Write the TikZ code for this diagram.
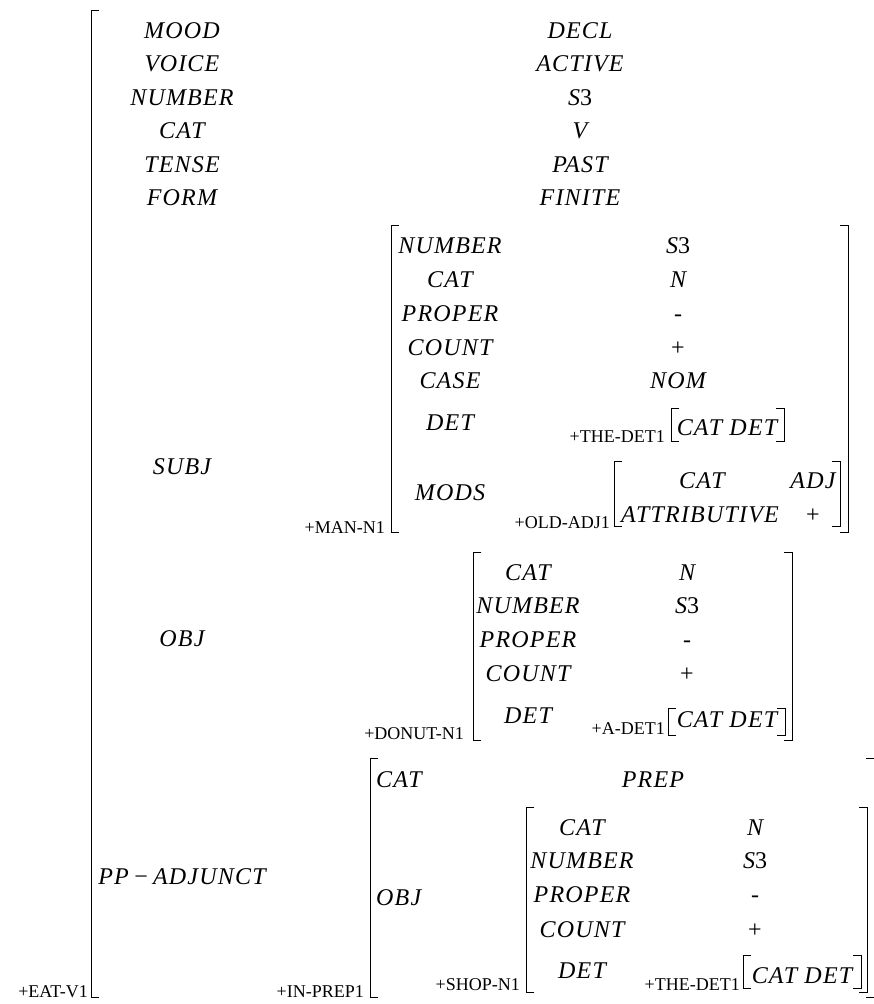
\documentclass[tikz,border=0pt]{standalone}
\usepackage{fontspec}
\setmainfont{Liberation Serif}
\newfontfamily\fsit{Liberation Serif}[LetterSpace=5]
\newcommand\LB[3]{\draw[brk] ({#1+8},#2) -- (#1,#2) -- (#1,#3) -- ({#1+8},#3);}
\newcommand\RB[3]{\draw[brk] ({#1-8},#2) -- (#1,#2) -- (#1,#3) -- ({#1-8},#3);}
\tikzset{
  lab/.style={font=\fontsize{24}{24}\selectfont\fsit\itshape, inner sep=0pt, anchor=base},
  llab/.style={lab, anchor=base west},
  num/.style={font=\fontsize{24}{24}\selectfont, inner sep=0pt, anchor=base},
  tagtext/.style={font=\fontsize{18}{18}\selectfont, inner sep=0pt, anchor=base east},
  brk/.style={line width=0.9pt, line cap=rect}
}
\begin{document}
\begin{tikzpicture}[x=1pt,y=-1pt]
\useasboundingbox (0,0) rectangle (874,1004);
% outer structure
\LB{91}{10}{997}
\node[tagtext] (eat) at (88,997) {+EAT-V1};
\node[lab] (mood) at (182,38) {MOOD};    \node[lab] (moodv) at (580,38) {DECL};
\node[lab] (voice) at (182,71) {VOICE};  \node[lab] (voicev) at (580,71) {ACTIVE};
\node[lab] (numb) at (182,105) {NUMBER}; \node[lab] (numbv) at (580,105) {S\upshape 3};
\node[lab] (cat) at (182,138) {CAT};     \node[lab] (catv) at (580,138) {V};
\node[lab] (tense) at (182,172) {TENSE}; \node[lab] (tensev) at (580,172) {PAST};
\node[lab] (form) at (182,205) {FORM};   \node[lab] (formv) at (580,205) {FINITE};
% SUBJ
\node[lab] (subj) at (182,474) {SUBJ};
\LB{391}{225}{532} \RB{848}{225}{532}
\node[tagtext] (man) at (385,533) {+MAN-N1};
\node[lab] (s1) at (450,253) {NUMBER}; \node[lab] (s1v) at (678,253) {S\upshape 3};
\node[lab] (s2) at (450,287) {CAT};    \node[lab] (s2v) at (678,287) {N};
\node[lab] (s3) at (450,321) {PROPER}; \node[num] (s3v) at (678,321) {-};
\node[lab] (s4) at (450,355) {COUNT};  \node[num] (s4v) at (678,355) {+};
\node[lab] (s5) at (450,388) {CASE};   \node[lab] (s5v) at (678,388) {NOM};
\node[lab] (s6) at (450,430) {DET};
\node[tagtext] (thedet) at (665,442) {+THE-DET1};
\LB{671}{408}{441} \RB{784}{408}{441}
\node[lab] (s6v) at (727,435) {CAT DET};
\node[lab] (s7) at (450,500) {MODS};
\node[tagtext] (old) at (610,528) {+OLD-ADJ1};
\LB{614}{461}{526} \RB{840}{461}{526}
\node[lab] (m1) at (702,488) {CAT};         \node[lab] (m1v) at (813,488) {ADJ};
\node[lab] (m2) at (700,522) {ATTRIBUTIVE}; \node[num] (m2v) at (813,522) {+};
% OBJ
\node[lab] (obj) at (182,646) {OBJ};
\LB{473}{552}{740} \RB{792}{552}{740}
\node[tagtext] (donut) at (464,739) {+DONUT-N1};
\node[lab] (o1) at (528,580) {CAT};    \node[lab] (o1v) at (687,580) {N};
\node[lab] (o2) at (528,613) {NUMBER}; \node[lab] (o2v) at (687,613) {S\upshape 3};
\node[lab] (o3) at (528,647) {PROPER}; \node[num] (o3v) at (687,647) {-};
\node[lab] (o4) at (528,681) {COUNT};  \node[num] (o4v) at (687,681) {+};
\node[lab] (o5) at (528,723) {DET};
\node[tagtext] (adet) at (665,734) {+A-DET1};
\LB{668}{708}{735} \RB{785}{708}{735}
\node[lab] (o5v) at (727,727) {CAT DET};
% PP-ADJUNCT
\node[lab] (pp) at (182,884) {PP\,−\,ADJUNCT};
\LB{370}{758}{997}
\draw[brk] (866,758) -- (874,758);
\draw[brk] (866,997) -- (874,997);
\node[tagtext] (inprep) at (364,997) {+IN-PREP1};
\node[llab] (p1) at (376,787) {CAT}; \node[lab] (p1v) at (653,787) {PREP};
\node[llab] (p2) at (376,905) {OBJ};
\LB{526}{807}{992} \RB{867}{807}{992}
\node[tagtext] (shop) at (520,990) {+SHOP-N1};
\node[lab] (h1) at (582,835) {CAT};    \node[lab] (h1v) at (755,835) {N};
\node[lab] (h2) at (582,868) {NUMBER}; \node[lab] (h2v) at (755,868) {S\upshape 3};
\node[lab] (h3) at (582,902) {PROPER}; \node[num] (h3v) at (755,902) {-};
\node[lab] (h4) at (582,937) {COUNT};  \node[num] (h4v) at (755,937) {+};
\node[lab] (h5) at (582,978) {DET};
\node[tagtext] (thedet2) at (740,990) {+THE-DET1};
\LB{743}{955}{988} \RB{861}{955}{988}
\node[lab] (h5v) at (802,983) {CAT DET};
\end{tikzpicture}
\end{document}
